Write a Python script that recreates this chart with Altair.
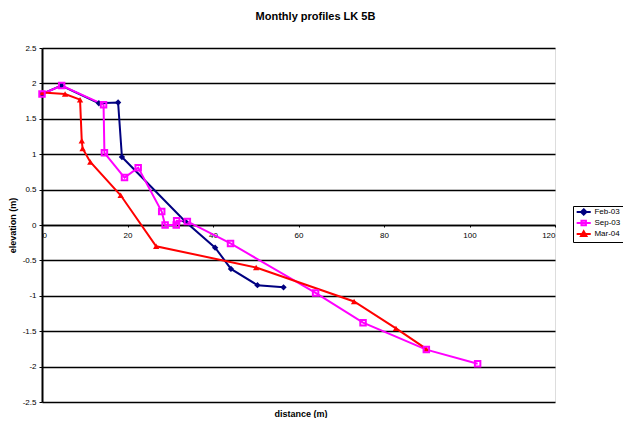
import altair as alt
import pandas as pd

series_names = ["Feb-03", "Sep-03", "Mar-04"]
colors = ["#000080", "#FF00FF", "#FF0000"]

feb_x = [0, 4.5, 13.3, 17.8, 18.7, 33.5, 40.5, 44.2, 50.4, 56.5]
feb_y = [1.85, 1.97, 1.72, 1.73, 0.96, 0.05, -0.32, -0.62, -0.85, -0.88]

sep_x = [0, 4.6, 14.4, 14.6, 19.3, 22.5, 28.0, 28.8, 31.4, 31.5, 34.0, 44.1, 64.0, 75.1, 89.9, 101.9]
sep_y = [1.85, 1.97, 1.70, 1.02, 0.67, 0.81, 0.19, 0.0, 0.0, 0.06, 0.05, -0.26, -0.96, -1.38, -1.76, -1.96]

mar_x = [0.1, 5.4, 8.9, 9.3, 9.5, 11.3, 18.4, 26.7, 50.1, 73.0, 82.8, 89.9]
mar_y = [1.87, 1.85, 1.77, 1.19, 1.08, 0.89, 0.42, -0.30, -0.60, -1.08, -1.46, -1.75]

x_ticks = [0, 20, 40, 60, 80, 100, 120]
y_ticks = [2.5, 2, 1.5, 1, 0.5, 0, -0.5, -1, -1.5, -2, -2.5]

rows = []
for name, xs, ys in [("Feb-03", feb_x, feb_y), ("Sep-03", sep_x, sep_y), ("Mar-04", mar_x, mar_y)]:
    for i, (a, b) in enumerate(zip(xs, ys)):
        rows.append({"series": name, "x": a, "y": b, "idx": i})
df = pd.DataFrame(rows)

FONT = "Liberation Sans"
W, H = 513, 354

cscale = alt.Scale(domain=series_names, range=colors)
xenc = alt.X("x:Q", scale=alt.Scale(domain=[0, 120], nice=False, zero=False),
             axis=alt.Axis(values=x_ticks, grid=False, offset=-H / 2, title="distance (m)",
                           titleY=188, titleBaseline="middle", titleX=W / 2 + 2,
                           labelFontSize=8, labelFont=FONT, labelColor="black",
                           labelBaseline="top", labelPadding=4,
                           tickSize=2, tickColor="black", domainColor="black", domainWidth=1.5,
                           titleFont=FONT, titleFontSize=9,
                           titleFontWeight="bold", titleColor="black"))
yenc = alt.Y("y:Q", scale=alt.Scale(domain=[-2.5, 2.5], nice=False, zero=False),
             axis=alt.Axis(values=y_ticks, grid=True, gridColor="black", gridWidth=1.3,
                           gridOpacity=1, domainColor="black", domainWidth=2,
                           tickSize=3, tickColor="black", labelFontSize=8, labelFont=FONT,
                           labelColor="black", labelPadding=3,
                           labelExpr="replace(format(datum.value, '~g'), '\u2212', '-')",
                           title="elevation (m)", titleX=-30, titleY=H / 2,
                           titleAlign="center", titleBaseline="middle", titleAngle=-90,
                           titleFont=FONT, titleFontSize=9, titleFontWeight="bold",
                           titleColor="black"))

base = alt.Chart(df)

line = base.mark_line(strokeWidth=2).encode(
    x=xenc, y=yenc,
    color=alt.Color("series:N", scale=cscale, legend=None),
    order="idx:Q",
)

pts_fill = base.transform_filter(alt.datum.series != "Sep-03").mark_point(
    filled=True, size=40, opacity=1
).encode(
    x=xenc, y=yenc,
    color=alt.Color("series:N", scale=cscale, legend=None),
    shape=alt.Shape("series:N", scale=alt.Scale(domain=["Feb-03", "Mar-04"],
                                               range=["diamond", "triangle-up"]), legend=None),
)

pts_sq = base.transform_filter(alt.datum.series == "Sep-03").mark_point(
    shape="square", filled=False, size=30, strokeWidth=2, color="#FF00FF", opacity=1
).encode(x=xenc, y=yenc)

leg_paths = [
    "M-3,0H3M0,-1.15L1.15,0L0,1.15L-1.15,0Z",
    "M-3,0H3M-0.95,-0.95H0.95V0.95H-0.95Z",
    "M-3,0H3M0,-1.15L1.15,0.85H-1.15Z",
]
legspec = alt.Legend(title=None, orient="none", legendX=531, legendY=158,
                     strokeColor="black", padding=2, symbolSize=22,
                     symbolStrokeWidth=2, symbolOpacity=1, symbolOffset=4.7,
                     labelOffset=6.7, labelFont=FONT, labelFontSize=8, labelColor="black",
                     rowPadding=-3)
leg = base.mark_point(opacity=0, filled=False, strokeWidth=2).encode(
    x=xenc, y=yenc,
    color=alt.Color("series:N", scale=cscale, legend=legspec),
    shape=alt.Shape("series:N", scale=alt.Scale(domain=series_names, range=leg_paths),
                    legend=legspec),
)

chart = alt.layer(line, pts_fill, pts_sq, leg).resolve_scale(
    shape="independent", color="independent"
).properties(
    width=W, height=H,
    autosize=alt.AutoSizeParams(type="none"),
    padding={"left": 34, "top": 40, "right": 68, "bottom": 16},
    title=alt.TitleParams("Monthly profiles LK 5B", font=FONT, fontSize=11, fontWeight="bold",
                          color="black", anchor="middle", dx=17, offset=22),
).configure_view(stroke="#808080", strokeWidth=1.5).configure(background="white")

chart.save("out.html", embed_options={"renderer": "svg", "actions": False})
